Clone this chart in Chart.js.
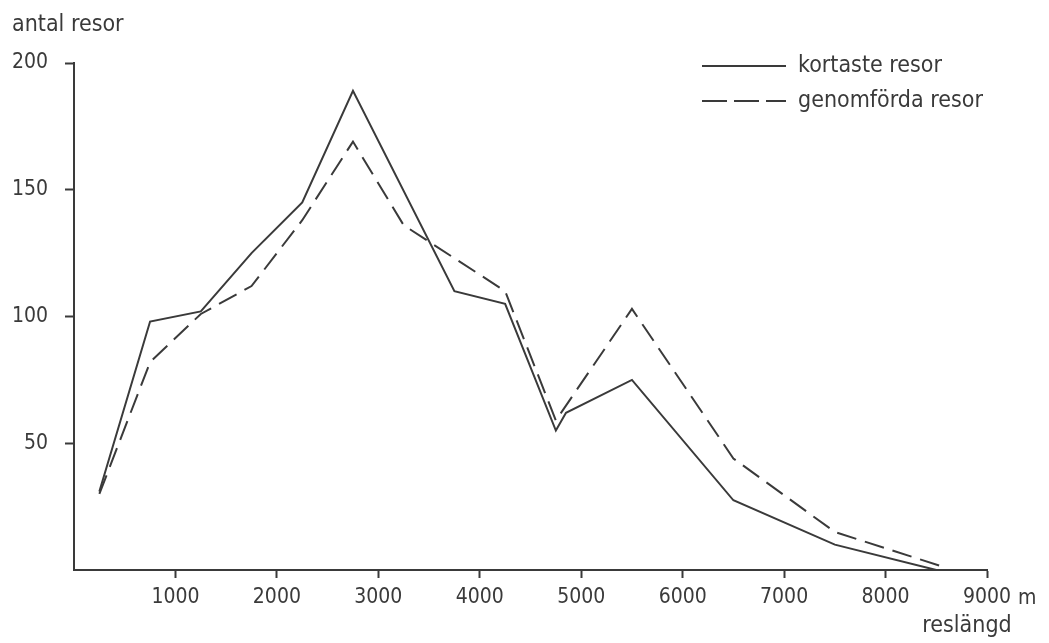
<!DOCTYPE html>
<html>
<head>
<meta charset="utf-8">
<script src="https://cdn.jsdelivr.net/npm/chart.js@4"></script>
<style>
  html, body { margin: 0; padding: 0; background: #ffffff; }
  #wrap { width: 1049px; height: 643px; }
</style>
</head>
<body>
<div id="wrap"><canvas id="c" width="1049" height="643"></canvas></div>
<script>
// ---- data ----
const seriesNames = ["kortaste resor", "genomförda resor"];
const kortasteX = [250, 750, 1250, 1750, 2250, 2750, 3750, 4250, 4750, 4850, 5500, 6500, 7500, 8500];
const kortasteY = [31, 98, 102, 125, 145, 189, 110, 105, 55, 62, 75, 27.5, 10, 0];
const genomfordaX = [250, 750, 1250, 1750, 2250, 2750, 3250, 3750, 4250, 4750, 5500, 6500, 7500, 8550];
const genomfordaY = [30, 82, 101, 112, 138, 169, 136, 123, 110, 59, 103, 44, 15, 1.5];
const xTicks = [1000, 2000, 3000, 4000, 5000, 6000, 7000, 8000, 9000];
const yTicks = [50, 100, 150, 200];
const yTitle = "antal resor";
const xTitle = "reslängd";
const xUnit = "m";

const INK = '#3a3a3a';
const FONT = "'DejaVu Sans Condensed', 'Liberation Sans Narrow', 'DejaVu Sans', sans-serif";

function toPoints(xs, ys) { return xs.map((x, i) => ({ x: x, y: ys[i] })); }

const annotations = {
  id: 'annotations',
  beforeDraw(chart) {
    const ctx = chart.ctx;
    ctx.save();
    ctx.fillStyle = '#ffffff';
    ctx.fillRect(0, 0, chart.width, chart.height);
    ctx.restore();
  },
  afterDraw(chart) {
    const ctx = chart.ctx;
    const xs = chart.scales.x;
    ctx.save();
    ctx.fillStyle = INK;
    ctx.font = "23px " + FONT;
    ctx.textAlign = 'left';
    ctx.textBaseline = 'alphabetic';
    ctx.fillText(yTitle, 12, 31);
    ctx.textAlign = 'center';
    ctx.fillText(xTitle, 967, 632);
    ctx.font = "21px " + FONT;
    ctx.textAlign = 'left';
    ctx.textBaseline = 'middle';
    ctx.fillText(xUnit, xs.getPixelForValue(9000) + 31, 599);

    // legend
    const ds = chart.data.datasets;
    const rows = [66, 101];
    ds.forEach((d, i) => {
      ctx.strokeStyle = d.borderColor;
      ctx.lineWidth = d.borderWidth;
      ctx.setLineDash(i === 0 ? [] : [25, 7]);
      ctx.beginPath();
      ctx.moveTo(702, rows[i]);
      ctx.lineTo(786, rows[i]);
      ctx.stroke();
      ctx.setLineDash([]);
      ctx.font = "23px " + FONT;
      ctx.textAlign = 'left';
      ctx.textBaseline = 'middle';
      ctx.fillText(d.label, 798, rows[i]);
    });
    ctx.restore();
  }
};

new Chart(document.getElementById('c'), {
  type: 'line',
  data: {
    datasets: [
      {
        label: seriesNames[0],
        data: toPoints(kortasteX, kortasteY),
        borderColor: INK,
        borderWidth: 2,
        pointRadius: 0,
        tension: 0,
        fill: false
      },
      {
        label: seriesNames[1],
        data: toPoints(genomfordaX, genomfordaY),
        borderColor: INK,
        borderWidth: 2,
        borderDash: [20, 9],
        pointRadius: 0,
        tension: 0,
        fill: false
      }
    ]
  },
  options: {
    responsive: false,
    devicePixelRatio: 1,
    animation: false,
    layout: { padding: { top: 63, left: 0, right: 62, bottom: 23 } },
    plugins: {
      legend: { display: false },
      tooltip: { enabled: false }
    },
    scales: {
      x: {
        type: 'linear',
        min: 0,
        max: 9000,
        afterFit(s) { s.height = 50; },
        afterBuildTicks(s) { s.ticks = [{ value: 0 }].concat(xTicks.map(v => ({ value: v }))); },
        border: { display: true, color: INK, width: 2 },
        grid: {
          drawOnChartArea: false,
          drawTicks: true,
          tickLength: 8,
          tickWidth: 2,
          tickColor: (c) => (c.tick && c.tick.value === 0 ? 'rgba(0,0,0,0)' : INK)
        },
        ticks: {
          color: INK,
          padding: 7,
          maxRotation: 0,
          autoSkip: false,
          font: { family: FONT, size: 21 },
          callback: (v) => (v === 0 ? '' : String(v))
        }
      },
      y: {
        type: 'linear',
        min: 0,
        max: 200,
        afterFit(s) { s.width = 74; },
        afterBuildTicks(s) { s.ticks = [{ value: 0 }].concat(yTicks.map(v => ({ value: v }))); },
        border: { display: true, color: INK, width: 2 },
        grid: {
          drawOnChartArea: false,
          drawTicks: true,
          tickLength: 9,
          tickWidth: 2,
          tickColor: (c) => (c.tick && c.tick.value === 0 ? 'rgba(0,0,0,0)' : INK)
        },
        ticks: {
          color: INK,
          padding: 17,
          font: { family: FONT, size: 21 },
          callback: (v) => (v === 0 ? '' : String(v))
        }
      }
    }
  },
  plugins: [annotations]
});
</script>
</body>
</html>
